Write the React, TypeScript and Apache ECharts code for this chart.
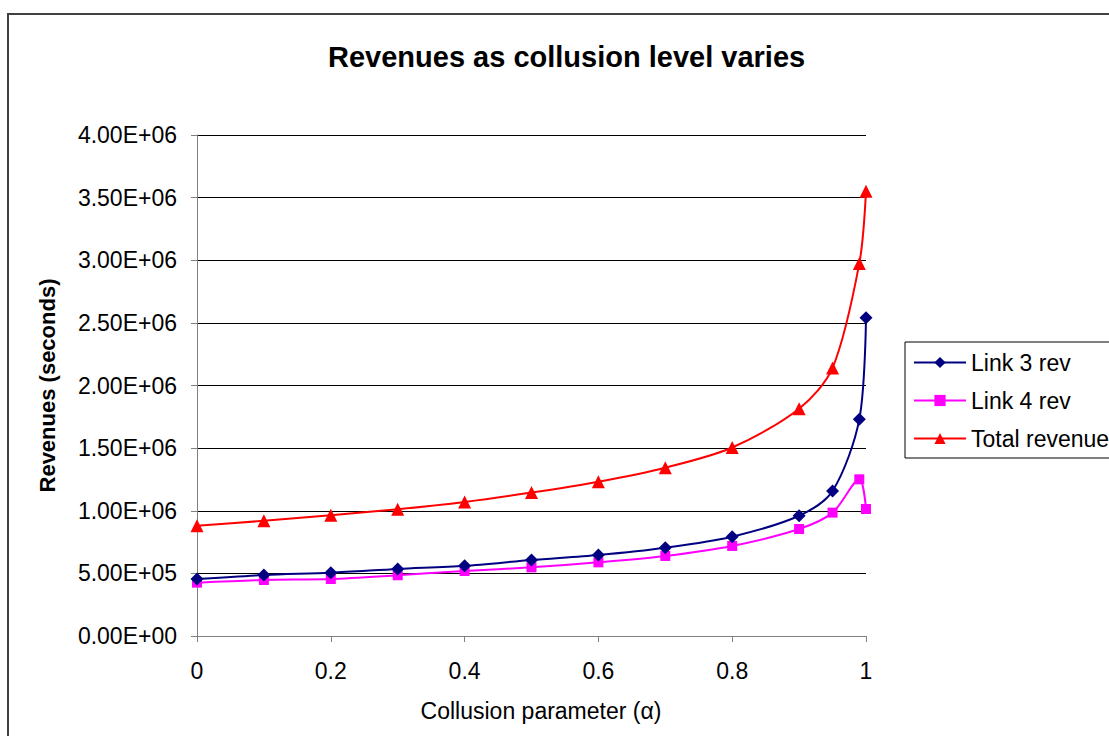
import React, { useEffect, useRef } from "react";
import * as echarts from "echarts";

const alphaValues = [0, 0.1, 0.2, 0.3, 0.4, 0.5, 0.6, 0.7, 0.8, 0.9, 0.95, 0.99, 1.0];
const link3Rev = [455000, 487000, 505000, 535000, 560000, 607000, 647000, 705000, 793000, 960000, 1158000, 1730000, 2540000];
const link4Rev = [426000, 447000, 455000, 485000, 519000, 548000, 588000, 639000, 719000, 854000, 985000, 1251000, 1014000];
const totalRev = [880000, 920000, 965000, 1012000, 1070000, 1145000, 1232000, 1344000, 1505000, 1815000, 2140000, 2975000, 3550000];

const seriesNames = ["Link 3 rev", "Link 4 rev", "Total revenue"];
const titleText = "Revenues as collusion level varies";
const xAxisTitle = "Collusion parameter (\u03b1)";
const yAxisTitle = "Revenues (seconds)";

const FONT = "'Liberation Sans', Arial, Helvetica, sans-serif";

function fmtSci(v: number): string {
  if (v === 0) return "0.00E+00";
  const e = Math.floor(Math.log10(Math.abs(v)) + 1e-9);
  const m = v / Math.pow(10, e);
  return m.toFixed(2) + "E" + (e < 0 ? "-" : "+") + String(Math.abs(e)).padStart(2, "0");
}

function pairs(xs: number[], ys: number[]): number[][] {
  return xs.map((x, i) => [x, ys[i]]);
}

export default function App() {
  const ref = useRef<HTMLDivElement>(null);
  useEffect(() => {
    if (!ref.current) return;
    const chart = echarts.init(ref.current, undefined, { renderer: "svg" });
    chart.setOption({
      animation: false,
      backgroundColor: "#ffffff",
      title: {
        text: titleText,
        left: 328,
        top: 42,
        padding: 0,
        textStyle: { fontFamily: FONT, fontSize: 29, fontWeight: "bold", color: "#000" },
      },
      graphic: [
        {
          type: "rect",
          shape: { x: 8, y: 14, width: 1300, height: 900 },
          style: { fill: "none", stroke: "#404040", lineWidth: 2 },
          silent: true,
          z: -1,
        },
      ],
      legend: {
        orient: "vertical",
        left: 905,
        top: 342,
        padding: [9, 10, 8, 8],
        itemGap: 15,
        itemWidth: 52,
        itemHeight: 14,
        borderColor: "#000",
        borderWidth: 1,
        data: seriesNames,
        textStyle: { fontFamily: FONT, fontSize: 23, color: "#000", lineHeight: 22 },
      },
      grid: { left: 197, right: 243, top: 135, bottom: 100 },
      xAxis: {
        type: "value",
        min: 0,
        max: 1,
        interval: 0.2,
        name: xAxisTitle,
        nameLocation: "middle",
        nameGap: 63,
        nameTextStyle: { fontFamily: FONT, fontSize: 23, color: "#000", padding: [0, 0, 0, 19] },
        axisLine: { show: true, lineStyle: { color: "#808080", width: 1 } },
        axisTick: { show: true, length: 6, lineStyle: { color: "#808080" } },
        axisLabel: {
          margin: 23,
          fontFamily: FONT,
          fontSize: 23,
          color: "#000",
          formatter: (v: number) => (v === 0 ? "0" : v === 1 ? "1" : v.toFixed(1)),
        },
        splitLine: { show: false },
      },
      yAxis: {
        type: "value",
        min: 0,
        max: 4000000,
        interval: 500000,
        name: yAxisTitle,
        nameLocation: "middle",
        nameGap: 139,
        nameRotate: 90,
        nameTextStyle: { fontFamily: FONT, fontSize: 22, fontWeight: "bold", color: "#000" },
        axisLine: { show: true, lineStyle: { color: "#808080", width: 1 } },
        axisTick: { show: true, length: 6, lineStyle: { color: "#808080" } },
        axisLabel: {
          margin: 20,
          fontFamily: FONT,
          fontSize: 23,
          color: "#000",
          formatter: (v: number) => fmtSci(v),
        },
        splitLine: { show: true, lineStyle: { color: "#000", width: 1 } },
      },
      series: [
        {
          name: seriesNames[0],
          type: "line",
          data: pairs(alphaValues, link3Rev),
          smooth: 0.3,
          symbol: "diamond",
          symbolSize: 13,
          itemStyle: { color: "#000080" },
          lineStyle: { color: "#000080", width: 2 },
          z: 3,
        },
        {
          name: seriesNames[1],
          type: "line",
          data: pairs(alphaValues, link4Rev),
          smooth: 0.3,
          symbol: "rect",
          symbolSize: 10,
          itemStyle: { color: "#FF00FF" },
          lineStyle: { color: "#FF00FF", width: 2 },
          z: 2,
        },
        {
          name: seriesNames[2],
          type: "line",
          data: pairs(alphaValues, totalRev),
          smooth: 0.3,
          symbol: "triangle",
          symbolSize: 13,
          itemStyle: { color: "#FF0000" },
          lineStyle: { color: "#FF0000", width: 2 },
          z: 4,
        },
      ],
    });
    return () => chart.dispose();
  }, []);
  return (
    <div
      ref={ref}
      style={{ position: "fixed", left: 0, top: 0, width: 1109, height: 736 }}
    />
  );
}
